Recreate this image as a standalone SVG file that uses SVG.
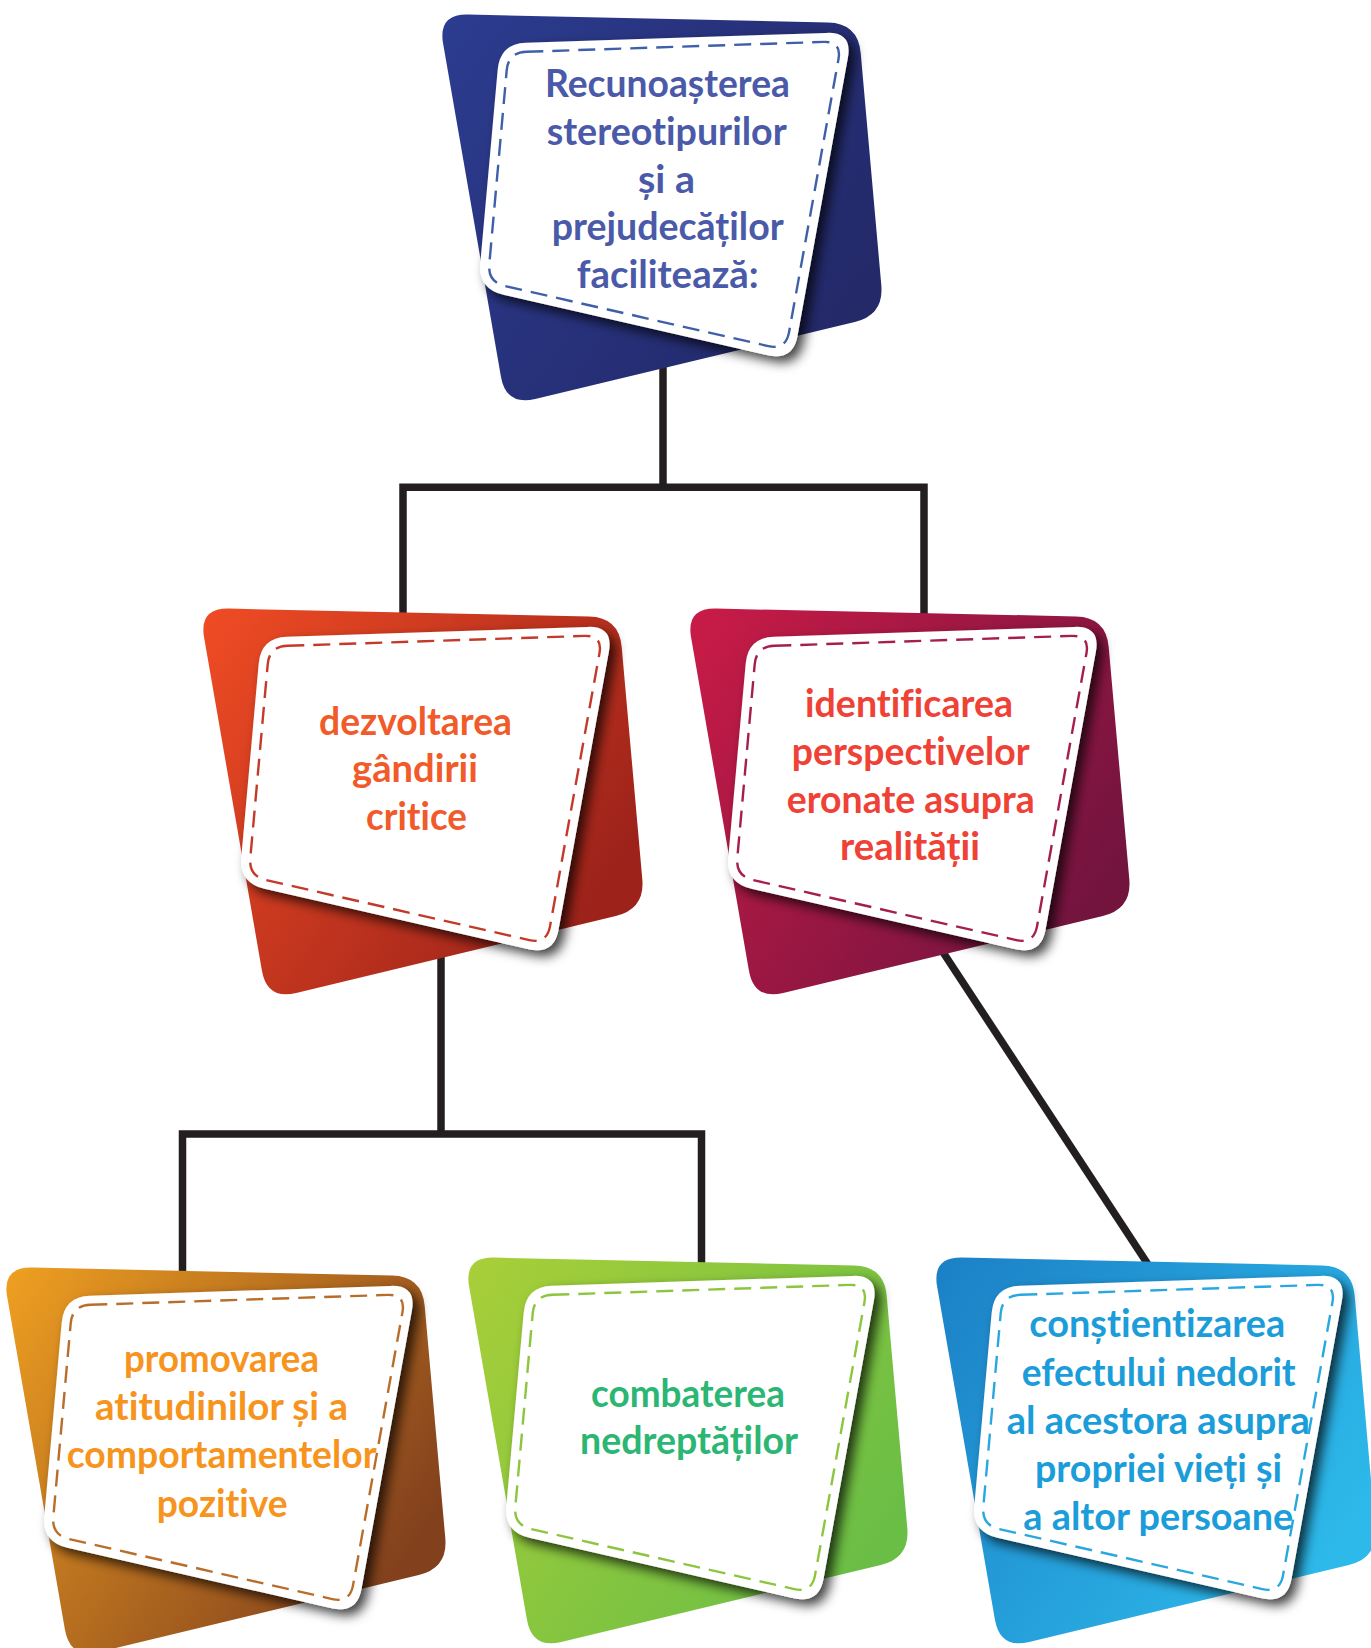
<svg xmlns="http://www.w3.org/2000/svg" width="1371" height="1648" viewBox="0 0 1371 1648">
<defs>
<style>
.t{font-family:Lato,"Noto Sans","Liberation Sans",sans-serif;font-weight:700;font-size:39px;font-variant-ligatures:none;font-feature-settings:"liga" 0,"clig" 0;}
.conn{fill:none;stroke:#231F20;stroke-width:7.5;stroke-linejoin:miter;}
.dash{fill:none;stroke-width:2.4;stroke-dasharray:17 9;}
</style>
<path id="bg" d="M468,14.6 L828,22.4 Q858,23 860.7,52.9 L881.3,285.1 Q884,315 854.8,322 L535.2,399 Q506,406 500.9,376.4 L443.1,43.6 Q438,14 468,14.6 Z"/>
<path id="card" d="M526,42.7 L826.5,32.9 Q852.5,32 847.9,57.6 L797.6,335.4 Q793,361 767.6,355.2 L503.4,294.8 Q478,289 480.3,263.1 L497.7,69.5 Q500,43.6 526,42.7 Z"/>
<path id="dash" d="M526.3,51.8 L823.7,41.9 Q841.7,41.3 838.5,59 L789,332.4 Q785.8,350.1 768.3,346.1 L505.2,286.1 Q487.7,282.1 489.3,264.2 L506.7,70.3 Q508.3,52.4 526.3,51.8 Z"/>
<filter id="sh" x="-15%" y="-15%" width="135%" height="135%">
<feDropShadow dx="6" dy="6" stdDeviation="6" flood-color="#000" flood-opacity="0.75"/>
</filter>
<linearGradient id="gTop" x1="0" y1="0" x2="1" y2="0.6"><stop offset="0" stop-color="#2C3C90"/><stop offset="1" stop-color="#232969"/></linearGradient>
<linearGradient id="gDez" x1="0" y1="0" x2="1" y2="0.6"><stop offset="0" stop-color="#F04C24"/><stop offset="1" stop-color="#9C221A"/></linearGradient>
<linearGradient id="gIde" x1="0" y1="0" x2="1" y2="0.6"><stop offset="0" stop-color="#CA1B47"/><stop offset="1" stop-color="#73143F"/></linearGradient>
<linearGradient id="gPro" x1="0" y1="0" x2="1" y2="0.6"><stop offset="0" stop-color="#EFA021"/><stop offset="1" stop-color="#82401D"/></linearGradient>
<linearGradient id="gGre" x1="0" y1="0" x2="1" y2="0.6"><stop offset="0" stop-color="#A9CF38"/><stop offset="1" stop-color="#6BBE45"/></linearGradient>
<linearGradient id="gBlu" x1="0" y1="0" x2="1" y2="0.6"><stop offset="0" stop-color="#1B80C6"/><stop offset="1" stop-color="#2DB9EA"/></linearGradient>
</defs>
<rect width="1371" height="1648" fill="#fff"/>
<g id="connectors">
<path class="conn" d="M663,340 V487.3"/>
<path class="conn" d="M403,625 V487.3 H924 V625"/>
<path class="conn" d="M441,940 V1134"/>
<path class="conn" d="M182.5,1280 V1134 H701.5 V1275"/>
<path class="conn" d="M935,940 L1153,1272"/>
</g>
<g id="node-top">
<g transform="translate(0,0)">
<use href="#bg" fill="url(#gTop)"/>
<use href="#card" fill="#fff" filter="url(#sh)"/>
<use href="#dash" class="dash" stroke="#3F5FAA"/>
</g>
<g class="t" fill="#4A5AA8">
<text x="545" y="96.7" textLength="245" lengthAdjust="spacingAndGlyphs">Recunoașterea</text>
<text x="546.7" y="145" textLength="240" lengthAdjust="spacingAndGlyphs">stereotipurilor</text>
<text x="638" y="193.3" textLength="57" lengthAdjust="spacingAndGlyphs">și a</text>
<text x="551.7" y="240" textLength="232" lengthAdjust="spacingAndGlyphs">prejudecăților</text>
<text x="576.7" y="288.3" textLength="182" lengthAdjust="spacingAndGlyphs">facilitează:</text>
</g>
</g>
<g id="node-dezvoltarea">
<g transform="translate(-239,594)">
<use href="#bg" fill="url(#gDez)"/>
<use href="#card" fill="#fff" filter="url(#sh)"/>
<use href="#dash" class="dash" stroke="#C4392A"/>
</g>
<g class="t" fill="#F15A29">
<text x="319" y="735" textLength="193" lengthAdjust="spacingAndGlyphs">dezvoltarea</text>
<text x="352" y="781.7" textLength="126" lengthAdjust="spacingAndGlyphs">gândirii</text>
<text x="366" y="830" textLength="101" lengthAdjust="spacingAndGlyphs">critice</text>
</g>
</g>
<g id="node-identificarea">
<g transform="translate(248,594)">
<use href="#bg" fill="url(#gIde)"/>
<use href="#card" fill="#fff" filter="url(#sh)"/>
<use href="#dash" class="dash" stroke="#A61E4D"/>
</g>
<g class="t" fill="#EF4136">
<text x="805" y="717.3" textLength="208" lengthAdjust="spacingAndGlyphs">identificarea</text>
<text x="791.7" y="765" textLength="238" lengthAdjust="spacingAndGlyphs">perspectivelor</text>
<text x="786.7" y="813.3" textLength="248" lengthAdjust="spacingAndGlyphs">eronate asupra</text>
<text x="840" y="860" textLength="140" lengthAdjust="spacingAndGlyphs">realității</text>
</g>
</g>
<g id="node-promovarea">
<g transform="translate(-436,1253)">
<use href="#bg" fill="url(#gPro)"/>
<use href="#card" fill="#fff" filter="url(#sh)"/>
<use href="#dash" class="dash" stroke="#B86E2A"/>
</g>
<g class="t" fill="#F7941D">
<text x="124" y="1371.7" textLength="195" lengthAdjust="spacingAndGlyphs">promovarea</text>
<text x="95" y="1420" textLength="253" lengthAdjust="spacingAndGlyphs">atitudinilor și a</text>
<text x="66.7" y="1468.3" textLength="310" lengthAdjust="spacingAndGlyphs">comportamentelor</text>
<text x="156.7" y="1516.7" textLength="131" lengthAdjust="spacingAndGlyphs">pozitive</text>
</g>
</g>
<g id="node-combaterea">
<g transform="translate(26,1243)">
<use href="#bg" fill="url(#gGre)"/>
<use href="#card" fill="#fff" filter="url(#sh)"/>
<use href="#dash" class="dash" stroke="#8CC63F"/>
</g>
<g class="t" fill="#2BB673">
<text x="591" y="1406.7" textLength="194" lengthAdjust="spacingAndGlyphs">combaterea</text>
<text x="580" y="1454" textLength="218" lengthAdjust="spacingAndGlyphs">nedreptăților</text>
</g>
</g>
<g id="node-constientizarea">
<g transform="translate(494,1243)">
<use href="#bg" fill="url(#gBlu)"/>
<use href="#card" fill="#fff" filter="url(#sh)"/>
<use href="#dash" class="dash" stroke="#29A8E0"/>
</g>
<g class="t" fill="#1B9DD9">
<text x="1029.3" y="1337.3" textLength="256" lengthAdjust="spacingAndGlyphs">conștientizarea</text>
<text x="1021.7" y="1386" textLength="274" lengthAdjust="spacingAndGlyphs">efectului nedorit</text>
<text x="1006.7" y="1434.3" textLength="303" lengthAdjust="spacingAndGlyphs">al acestora asupra</text>
<text x="1035" y="1481.7" textLength="247" lengthAdjust="spacingAndGlyphs">propriei vieți și</text>
<text x="1023.3" y="1530" textLength="270" lengthAdjust="spacingAndGlyphs">a altor persoane</text>
</g>
</g>
</svg>
